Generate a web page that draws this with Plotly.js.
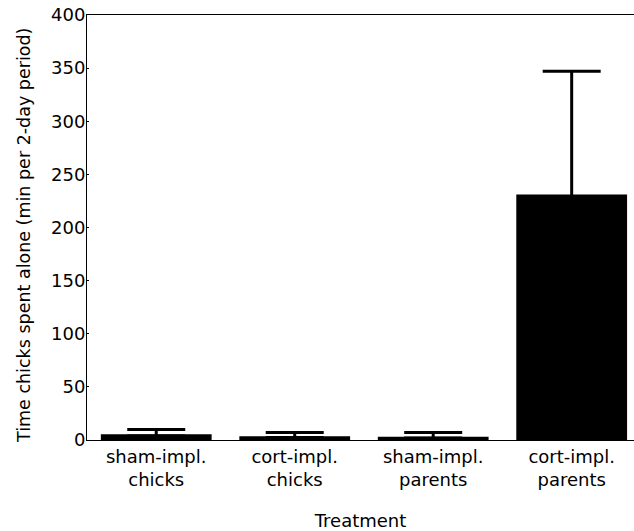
<!DOCTYPE html>
<html>
<head>
<meta charset="utf-8">
<script src="https://cdn.plot.ly/plotly-3.0.1.min.js"></script>
<style>html,body{margin:0;padding:0;background:#fff;}#chart{width:634px;height:531px;}</style>
</head>
<body>
<div id="chart"></div>
<script>
const categories = ["sham-impl.<br>chicks", "cort-impl.<br>chicks", "sham-impl.<br>parents", "cort-impl.<br>parents"];
const meanValues = [5.5, 3.5, 3, 231];
const errorPlus = [4.5, 3.5, 4, 116];
const yTickValues = [0, 50, 100, 150, 200, 250, 300, 350, 400];
const yTitle = "Time chicks spent alone (min per 2-day period)";
const xTitle = "Treatment";

const font = {family: "DejaVu Sans, Liberation Sans, Arial, sans-serif", size: 18, color: "#000"};

// keep the (invisible) lower cap inside the black bar
const errorMinus = meanValues.map(v => Math.min(2, v / 3));

const trace = {
  type: "bar",
  x: categories,
  y: meanValues,
  width: 0.8,
  marker: {color: "#000", line: {width: 0}},
  error_y: {
    type: "data",
    symmetric: false,
    array: errorPlus,
    arrayminus: errorMinus,
    color: "#000",
    thickness: 3,
    width: 29
  },
  hoverinfo: "none"
};

const layout = {
  width: 634,
  height: 531,
  margin: {l: 87, r: 0, t: 15, b: 91},
  paper_bgcolor: "#fff",
  plot_bgcolor: "#fff",
  font: font,
  showlegend: false,
  xaxis: {
    type: "category",
    range: [-0.5, 3.45],
    showline: true,
    linecolor: "#000",
    linewidth: 1,
    mirror: true,
    ticks: "",
    showgrid: false,
    zeroline: false,
    tickfont: font,
    title: {text: xTitle, font: font, standoff: 27}
  },
  yaxis: {
    range: [0, 400],
    tickvals: yTickValues,
    showline: true,
    linecolor: "#000",
    linewidth: 1,
    ticks: "inside",
    ticklen: 2,
    tickcolor: "#000",
    showgrid: false,
    zeroline: false,
    tickfont: font,
    ticklabelstandoff: -3
  },
  annotations: [{
    text: yTitle,
    textangle: -90,
    xref: "paper", yref: "paper",
    x: 0, xshift: -63, xanchor: "center",
    y: 0.48, yanchor: "middle",
    showarrow: false,
    font: {family: font.family, size: 17.5, color: "#000"}
  }]
};

Plotly.newPlot("chart", [trace], layout, {displayModeBar: false, staticPlot: true});
</script>
</body>
</html>
